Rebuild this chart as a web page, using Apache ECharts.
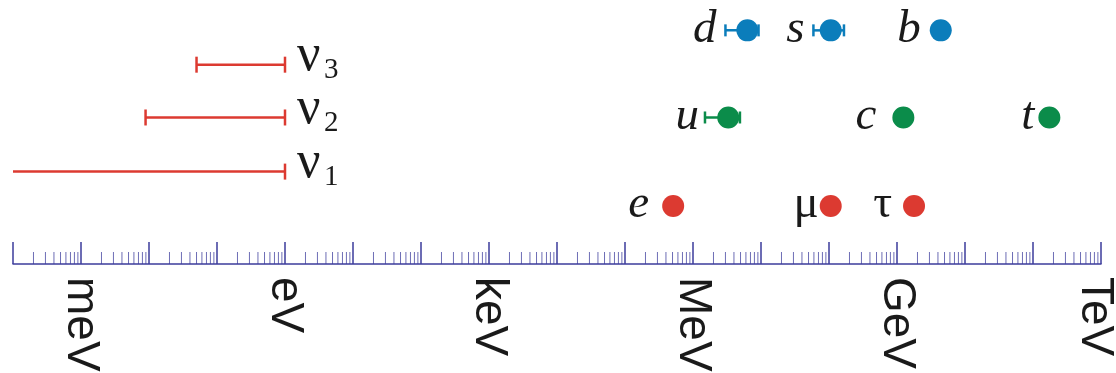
<!DOCTYPE html>
<html><head><meta charset="utf-8">
<script src="https://cdn.jsdelivr.net/npm/echarts@6/dist/echarts.min.js"></script>
<style>html,body{margin:0;padding:0;background:#fff}#c{width:1116px;height:373px}</style>
</head><body><div id="c"></div>
<script>
// ---------------- data (energies in eV) ----------------
const unitExponents = [-3, 0, 3, 6, 9, 12];
const unitLabels = ['meV', 'eV', 'keV', 'MeV', 'GeV', 'TeV'];

const leptonNames = ['e', 'μ', 'τ'];
const leptonMass = [5.11e5, 1.06e8, 1.78e9];

const upNames = ['u', 'c', 't'];
const upMass = [3.3e6, 1.24e9, 1.74e11];
const upLow = [1.5e6, null, null];
const upHigh = [4.9e6, null, null];

const downNames = ['d', 's', 'b'];
const downMass = [6.3e6, 1.06e8, 4.4e9];
const downLow = [3.0e6, 5.9e7, null];
const downHigh = [9.2e6, 1.66e8, null];

const nuSubscripts = ['1', '2', '3'];
const nuLow = [null, 8.9e-3, 5.0e-2];   // null: unbounded below
const nuHigh = [1, 1, 1];

const axisMinE = 1e-4, axisMaxE = 1e12;
const minorMultipliers = [2, 3, 4, 5, 6, 7, 8, 9];

// ---------------- layout / style ----------------
const ROW = { lepton: 2.2, up: 5.55, down: 8.85, nu: [3.5, 5.55, 7.55] };
const RED = '#dc3a31', GREEN = '#0b8c4a', BLUE = '#0b7dbb', AXIS = '#3c3c9c', TXT = '#1a1a1a';
const DOT_R = 11;
const SERIF = '"Liberation Serif", "DejaVu Serif", serif';
const gapLepton = [13, 1, 11], gapUp = [6, 16, 4], gapDown = [9, 9, 9];
const italicLepton = [true, false, false];

function cap(x, y, h, color, w) {
  return { type: 'line', shape: { x1: x, y1: y - h, x2: x, y2: y + h }, style: { stroke: color, lineWidth: w } };
}

function particleSeries(names, masses, lows, highs, row, color, gaps, italics) {
  return {
    type: 'custom', coordinateSystem: 'cartesian2d', clip: false, z: 5,
    data: masses.map(m => [m, row]),
    renderItem(params, api) {
      const i = params.dataIndex;
      const c = api.coord([masses[i], row]);
      const ch = [];
      let anchor = c[0] - DOT_R;
      if (lows && lows[i] != null) {
        const lo = api.coord([lows[i], row]), hi = api.coord([highs[i], row]);
        ch.push({ type: 'line', shape: { x1: lo[0], y1: c[1], x2: hi[0], y2: c[1] }, style: { stroke: color, lineWidth: 2.5 } });
        ch.push(cap(lo[0], c[1], 6, color, 2.5));
        ch.push(cap(hi[0], c[1], 6, color, 2.5));
        anchor = Math.min(anchor, lo[0]);
      }
      ch.push({ type: 'circle', shape: { cx: c[0], cy: c[1], r: DOT_R }, style: { fill: color } });
      const it = italics ? italics[i] : true;
      ch.push({ type: 'text', style: {
        text: names[i], x: anchor - gaps[i], y: c[1] - 1, align: 'right', verticalAlign: 'middle',
        font: (it ? 'italic ' : '') + '47px ' + SERIF, fill: TXT } });
      return { type: 'group', children: ch };
    }
  };
}

const nuSeries = {
  type: 'custom', coordinateSystem: 'cartesian2d', clip: false, z: 5,
  data: nuHigh.map((h, i) => [h, ROW.nu[i]]),
  renderItem(params, api) {
    const i = params.dataIndex, row = ROW.nu[i];
    const hi = api.coord([nuHigh[i], row]);
    const lo = api.coord([nuLow[i] != null ? nuLow[i] : axisMinE, row]);
    const ch = [
      { type: 'line', shape: { x1: lo[0], y1: hi[1], x2: hi[0], y2: hi[1] }, style: { stroke: RED, lineWidth: 2.5 } },
      cap(hi[0], hi[1], 8, RED, 2.5)
    ];
    if (nuLow[i] != null) ch.push(cap(lo[0], hi[1], 8, RED, 2.5));
    ch.push({ type: 'text', style: { text: 'ν', x: hi[0] + 12, y: hi[1] - 8, align: 'left', verticalAlign: 'middle', font: '52px ' + SERIF, fill: TXT } });
    ch.push({ type: 'text', style: { text: nuSubscripts[i], x: hi[0] + 39, y: hi[1] + 6, align: 'left', verticalAlign: 'middle', font: '29px ' + SERIF, fill: TXT } });
    return { type: 'group', children: ch };
  }
};

// minor ticks at 2..9 x 10^k (axis structure)
const minorTickValues = [];
for (let k = Math.log10(axisMinE); k < Math.log10(axisMaxE); k++) {
  minorMultipliers.forEach(m => minorTickValues.push(m * Math.pow(10, k)));
}
const minorTickSeries = {
  type: 'custom', coordinateSystem: 'cartesian2d', clip: false, z: 3, silent: true,
  data: minorTickValues.map(v => [v, 0]),
  renderItem(params, api) {
    const c = api.coord([minorTickValues[params.dataIndex], 0]);
    return { type: 'line', shape: { x1: c[0], y1: c[1], x2: c[0], y2: c[1] - 12 }, style: { stroke: AXIS, lineWidth: 1, opacity: 0.75 } };
  }
};

const chart = echarts.init(document.getElementById('c'), null, { renderer: 'canvas' });
chart.setOption({
  animation: false,
  backgroundColor: '#ffffff',
  grid: { left: 13, right: 15, top: 0, bottom: 109, containLabel: false, outerBoundsMode: 'none' },
  xAxis: {
    type: 'log', logBase: 10, min: axisMinE, max: axisMaxE, interval: 1,
    axisLine: { show: true, lineStyle: { color: AXIS, width: 1.5 } },
    axisTick: { show: true, inside: true, length: 22, interval: 0, lineStyle: { color: AXIS, width: 1.5 } },
    splitLine: { show: false },
    axisLabel: {
      show: true, interval: 0, rotate: -90, margin: 13, color: TXT,
      fontSize: 46, fontFamily: '"Liberation Sans", Arial, sans-serif',
      formatter: v => {
        const e = Math.round(Math.log10(v));
        const idx = unitExponents.indexOf(e);
        if (idx < 0) return '';
        return idx === unitLabels.length - 1 ? '{edge|' + unitLabels[idx] + '}' : unitLabels[idx];
      },
      rich: { edge: { fontSize: 46, fontFamily: '"Liberation Sans", Arial, sans-serif', color: TXT, padding: [12, 0, 0, 0] } }
    }
  },
  yAxis: { type: 'value', min: 0, max: 10, show: false },
  series: [
    minorTickSeries,
    nuSeries,
    particleSeries(leptonNames, leptonMass, null, null, ROW.lepton, RED, gapLepton, italicLepton),
    particleSeries(upNames, upMass, upLow, upHigh, ROW.up, GREEN, gapUp, null),
    particleSeries(downNames, downMass, downLow, downHigh, ROW.down, BLUE, gapDown, null)
  ]
});
</script></body></html>
